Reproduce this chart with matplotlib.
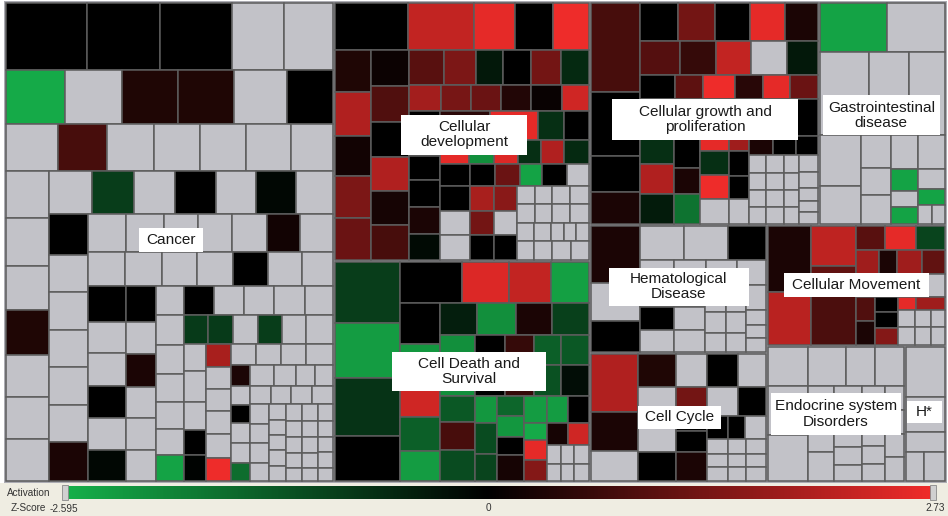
import numpy as np
import matplotlib.pyplot as plt
from matplotlib.patches import Rectangle
from matplotlib.colors import LinearSegmentedColormap, Normalize

G = None  # no activation z-score -> grey tile


def H(w, *kids):
    return (w, 'h', list(kids))


def V(w, *kids):
    return (w, 'v', list(kids))


def hrow(w, sizes, zs):
    return H(w, *zip(sizes, zs))


def vcol(w, sizes, zs):
    return V(w, *zip(sizes, zs))


def grp(name, w, tree):
    return (w, 'g', name, tree)


GREY3 = [G] * 3
GREY4 = [G] * 4
GREY5 = [G] * 5

ZMIN, ZMAX = -2.595, 2.73

# each tile: (relative size, activation z-score)
cancer = V(1,
    hrow(67, [80, 73, 71, 52, 48], [0, 0, 0, G, G]),
    hrow(54, [59, 57, 56, 56, 52, 46], [-2.5, G, 0.35, 0.35, G, 0]),
    hrow(47, [52, 48, 47, 46, 46, 45, 41], [G, 0.8, G, G, G, G, G]),
    H(310,
        vcol(43, [47, 48, 44, 45, 42, 42, 42], [G, G, G, 0.35, G, G, G]),
        V(284,
            hrow(43, [42, 42, 40, 40, 40, 39, 36], [G, -0.9, G, 0, G, -0.1, G]),
            H(267,
                vcol(39, [40, 37, 37, 37, 37, 37, 38], [0, G, G, G, G, G, 0.3]),
                V(244,
                    hrow(38, [37, 38, 33, 34, 34, 33, 32], [G, G, G, G, G, 0.2, G]),
                    hrow(34, [37, 36, 35, 35, 35, 34, 30], [G, G, G, G, 0, G, G]),
                    H(195,
                        vcol(38, [35, 31, 32, 32, 31, 31], [0, G, G, 0, G, -0.1]),
                        vcol(31, [35, 31, 32, 31, 31, 30], [0, G, 0.3, G, G, G]),
                        vcol(28, [28, 29, 28, 27, 26, 25, 25], [G, G, G, G, G, G, -2.4]),
                        V(150,
                            hrow(29, [30, 30, 30, 30, 28], [0, G, G, G, G]),
                            hrow(29, [23, 25, 24, 24, 23, 26], [-0.85, -0.85, G, -0.9, G, G]),
                            H(136,
                                vcol(22, [26, 29, 27, 24, 25], [G, G, G, 0, -0.05]),
                                vcol(25, [21, 21, 20, 22, 22, 22], [1.9, G, G, G, G, 2.7]),
                                V(103,
                                    hrow(21, [24, 24, 24, 25], GREY4),
                                    H(115,
                                        vcol(20, [20, 18, 18, 19, 20, 17], [0.3, G, 0, G, G, -1.6]),
                                        V(83,
                                            hrow(20, [22, 21, 17, 17], GREY4),
                                            hrow(18, [19, 19, 20, 19], GREY4),
                                            H(75,
                                                vcol(17, [19, 19, 19, 18], GREY4),
                                                vcol(16, [15, 15, 15, 15, 15], GREY5),
                                                vcol(15, [16, 16, 16, 14, 13], GREY5),
                                                vcol(15, [16, 16, 16, 14, 13], GREY5),
                                                vcol(14, [16, 16, 15, 15, 13], GREY5)))))))))))))

cell_dev = V(1,
    hrow(47, [71, 64, 39, 37, 35], [0, 2.2, 2.6, 0, 2.7]),
    H(210,
        vcol(36, [41, 42, 39, 40, 41], [0.35, 2.0, 0.2, 1.4, 1.2]),
        vcol(38, [35, 36, 34, 34, 33, 35], [0.15, 0.9, 0, 2.0, 0.25, 0.8]),
        V(178,
            hrow(35, [33, 31, 27, 27, 29, 27], [1.0, 1.4, -0.35, 0, 1.3, -0.6]),
            hrow(26, [30, 29, 29, 29, 30, 26], [1.85, 1.35, 1.2, 0.4, 0.1, 2.35]),
            H(149,
                vcol(30, [44, 24, 26, 26, 26], [0, 0, 0, 0.3, -0.15]),
                V(146,
                    hrow(28, [47, 46, 24, 24], [0.5, 2.6, -0.7, 0]),
                    hrow(24, [27, 23, 22, 21, 22, 23], [2.6, -2.1, 2.5, -0.7, 2.0, -0.6]),
                    hrow(21, [28, 23, 23, 20, 23, 21], [0, 0, 1.2, -2.4, 0, G]),
                    H(73,
                        V(75,
                            hrow(25, [28, 23, 21], [0, 1.9, 1.55]),
                            hrow(23, [28, 23, 21], [G, 1.3, G]),
                            hrow(24, [28, 23, 21], [G, 0, 0])),
                        V(71,
                            hrow(18, [17, 17, 17, 18], GREY4),
                            hrow(18, [17, 17, 17, 18], GREY4),
                            hrow(18, [17, 17, 12, 12, 13], GREY5),
                            hrow(18, [17, 17, 18, 18], GREY4))))))))

cell_death = H(1,
    vcol(65, [60, 55, 57, 45], [-0.9, -2.3, -0.75, 0]),
    V(188,
        hrow(41, [60, 46, 41, 37], [0, 2.5, 2.2, -2.35]),
        H(177,
            vcol(39, [40, 45, 27, 33, 30], [0, -2.2, 2.35, -1.4, -2.3]),
            V(147,
                hrow(31, [36, 38, 35, 36], [-0.45, -2.1, 0.3, -0.95]),
                H(60,
                    (34, -2.1), (29, 0), (28, 0.6),
                    vcol(26, [30, 30], [-1.4, -1.2]),
                    vcol(27, [30, 30], [-1.3, -0.2])),
                H(84,
                    vcol(33, [26, 27, 30], [-1.3, 0.8, -1.1]),
                    vcol(21, [27, 30, 27], [-2.2, -1.1, -1.0]),
                    vcol(25, [20, 20, 17, 25], [-1.5, -2.2, 0, 0.25]),
                    vcol(22, [27, 17, 19, 21], [-2.3, -2.5, 2.6, 1.5]),
                    V(40,
                        hrow(27, [20, 20], [-2.3, 0]),
                        hrow(22, [20, 20], [0.25, 2.35]),
                        H(35,
                            vcol(13, [18, 17], [G, G]),
                            vcol(13, [18, 17], [G, G]),
                            vcol(14, [18, 17], [G, G]))))))))

growth = H(1,
    vcol(49, [87, 63, 36, 31], [0.8, 0, 0, 0.3]),
    V(177,
        hrow(38, [36, 36, 34, 33, 32], [0, 1.3, 0, 2.6, 0.3]),
        hrow(33, [38, 35, 34, 34, 30], [0.95, 0.6, 2.2, G, -0.35]),
        hrow(24, [32, 27, 30, 26, 25, 26], [0, 1.05, 2.7, 0.45, 2.6, 1.2]),
        H(124,
            vcol(33, [39, 24, 29, 29], [0, -0.7, 2.0, -0.4]),
            vcol(25, [39, 28, 26, 29], [0, 0, 0.3, -1.7]),
            V(48,
                hrow(52, [28, 19], [2.6, 1.8]),
                H(72,
                    vcol(28, [23, 24, 24], [-0.7, 2.7, G]),
                    vcol(19, [24, 23, 24], [0, 0, G]))),
            V(67,
                hrow(37, [46, 21], [0.1, 0]),
                hrow(18, [23, 22, 21], [0.3, 0, 0]),
                H(68,
                    vcol(16, [17, 17, 16, 16], GREY4),
                    vcol(17, [17, 17, 16, 16], GREY4),
                    vcol(14, [17, 17, 16, 16], GREY4),
                    vcol(17, [16, 16, 12, 11, 11], GREY5))))))

gi = V(1,
    hrow(49, [66, 56], [-2.4, G]),
    hrow(82, [46, 38, 34], GREY3),
    H(89,
        vcol(40, [50, 37], [G, G]),
        vcol(28, [32, 26, 28], GREY3),
        vcol(26, [32, 21, 15, 16], [G, -2.4, G, -2.4]),
        V(26, (32, G), (19, G), (14, -2.4), hrow(18, [9, 8], [G, G]))))

hema = H(1,
    vcol(49, [57, 37, 31], [0.3, G, 0]),
    V(125,
        hrow(34, [42, 42, 37], [G, G, 0]),
        hrow(25, [33, 31, 30, 28], GREY4),
        H(66,
            vcol(33, [22, 23, 22], [G, 0, G]),
            vcol(30, [22, 23, 22], GREY3),
            vcol(20, [26, 21, 19], GREY3),
            vcol(19, [26, 21, 19], GREY3),
            vcol(20, [24, 15, 13, 14], GREY4))))

cycle = H(1,
    vcol(47, [56, 38, 29], [2.0, 0.3, G]),
    V(128,
        hrow(32, [37, 31, 30, 28], [0.35, G, 0, G]),
        H(92,
            vcol(37, [64, 28], [G, 0]),
            vcol(31, [23, 20, 20, 28], [1.3, 0, 0, 0.3]),
            V(58,
                hrow(28, [30, 28], [G, 0]),
                hrow(22, [20, 17, 20], [0, 0, G]),
                H(40,
                    vcol(20, [14, 13, 13], GREY3),
                    vcol(18, [14, 13, 13], GREY3),
                    vcol(20, [14, 13, 13], GREY3))))))

movement = H(1,
    vcol(43, [66, 52], [0.3, 2.1]),
    vcol(44, [40, 28, 50], [2.15, 1.1, 0.85]),
    V(89,
        hrow(24, [29, 30, 28], [1.0, 2.6, -1.0]),
        hrow(24, [22, 17, 24, 22], [1.8, 0.3, 1.8, 1.1]),
        H(70,
            vcol(19, [22, 24, 23], [1.0, 0.9, 0.3]),
            vcol(22, [22, 15, 15, 17], [0.9, 0, 0, 1.5]),
            V(46,
                hrow(22, [20, 26], [G, G]),
                hrow(12, [17, 28], [2.6, 1.8]),
                hrow(17, [17, 15, 14], GREY3),
                hrow(17, [17, 15, 14], GREY3)))))

endocrine = V(1,
    hrow(39, [39, 36, 28, 28], GREY4),
    H(96,
        vcol(39, [47, 44], [G, G]),
        vcol(25, [24, 21, 20, 28], GREY4),
        vcol(27, [24, 20, 16, 17, 16], GREY5),
        vcol(22, [24, 18, 17, 17, 17], GREY5),
        vcol(18, [24, 23, 23, 23], GREY4)))

hstar = V(1, (50, G), (35, G), (20, G), hrow(29, [17, 19], [G, G]))

treemap = H(1,
    grp('Cancer', 328, cancer),
    V(256,
        grp('Cellular\ndevelopment', 258, cell_dev),
        grp('Cell Death and\nSurvival', 220, cell_death)),
    V(355,
        H(222,
            grp('Cellular growth and\nproliferation', 228, growth),
            grp('Gastrointestinal\ndisease', 127, gi)),
        H(256,
            V(176,
                grp('Hematological\nDisease', 127, hema),
                grp('Cell Cycle', 128, cycle)),
            V(178,
                grp('Cellular Movement', 120, movement),
                H(135,
                    grp('Endocrine system\nDisorders', 136, endocrine),
                    grp('H*', 41, hstar))))))

# white caption boxes: width, height, and shift from the group centre (px)
label_box = {
    'Cancer': (64, 24, 2, -2),
    'Cellular\ndevelopment': (126, 40, 2, 3),
    'Cell Death and\nSurvival': (154, 39, 7, 0),
    'Cellular growth and\nproliferation': (186, 41, 1, 6),
    'Gastrointestinal\ndisease': (117, 40, -1, 2),
    'Hematological\nDisease': (140, 38, 0, -2),
    'Cell Cycle': (83, 23, 1, 0),
    'Cellular Movement': (145, 24, 0, 0),
    'Endocrine system\nDisorders': (130, 42, 0, 0),
    'H*': (35, 22, -1, -2),
}


def layout(node, x, y, w, h, cells, groups):
    if len(node) == 2:
        cells.append((x, y, w, h, node[1]))
        return
    if node[1] == 'g':
        groups.append((node[2], x, y, w, h))
        layout(node[3], x + 1, y + 1, w - 2, h - 2, cells, groups)
        return
    kids = node[2]
    tot = float(sum(k[0] for k in kids))
    pos = 0.0
    for k in kids:
        f = k[0] / tot
        if node[1] == 'h':
            layout(k, x + pos * w, y, f * w, h, cells, groups)
        else:
            layout(k, x, y + pos * h, w, f * h, cells, groups)
        pos += f


zero = -ZMIN / (ZMAX - ZMIN)
cmap = LinearSegmentedColormap.from_list(
    'activation', [(0, '#16b04a'), (zero, '#000000'), (1, '#f02c2a')])
norm = Normalize(ZMIN, ZMAX)

fig = plt.figure(figsize=(9.48, 5.16), dpi=100)
ax = fig.add_axes([0, 0, 1, 1])
ax.axis('off')

cells, groups = [], []
layout(treemap, 5, 2, 941, 480, cells, groups)

ax.add_patch(Rectangle((4, 1), 943, 482, facecolor='#acacb3', edgecolor='none'))
for x, y, w, h, z in cells:
    fc = '#c2c2c8' if z is None else cmap(norm(z))
    ax.add_patch(Rectangle((x, y), w, h, facecolor=fc, edgecolor='#5c5c5c', lw=1.1))

for name, x, y, w, h in groups:
    bw, bh, dx, dy = label_box[name]
    cx, cy = x + w / 2 + dx, y + h / 2 + dy
    ax.add_patch(Rectangle((cx - bw / 2, cy - bh / 2), bw, bh, facecolor='white',
                           edgecolor='none', zorder=3))
    ax.text(cx, cy, name, ha='center', va='center', fontsize=11.1, zorder=4,
            color='#1a1a1a', family=['Liberation Sans', 'DejaVu Sans'], linespacing=1.1)

# colour scale strip
ax.add_patch(Rectangle((0, 483), 948, 33, facecolor='#efede2', edgecolor='none'))
bx0, bx1 = 65, 933
grad = np.linspace(ZMIN, ZMAX, 512).reshape(1, -1)
ax.imshow(grad, cmap=cmap, norm=norm, extent=(bx0, bx1, 499, 486),
          aspect='auto', interpolation='bilinear', zorder=2)
for hx in (bx0 - 3, bx1 - 3):
    ax.add_patch(Rectangle((hx, 485), 6, 15, facecolor='#d0d0d0', edgecolor='#8a8a8a',
                           lw=0.6, zorder=3))

small = dict(fontsize=7.2, color='#333333', family=['Liberation Sans', 'DejaVu Sans'])
ax.text(7, 493, 'Activation', ha='left', va='center', **small)
ax.text(11, 508, 'Z-Score', ha='left', va='center', **small)
ax.text(50, 509, '%g' % ZMIN, ha='left', va='center', **small)
ax.text(bx0 + zero * (bx1 - bx0), 508, '0', ha='center', va='center', **small)
ax.text(945, 508, '%g' % ZMAX, ha='right', va='center', **small)

ax.set_xlim(0, 948)
ax.set_ylim(516, 0)
fig.savefig('out.png', dpi=100)
